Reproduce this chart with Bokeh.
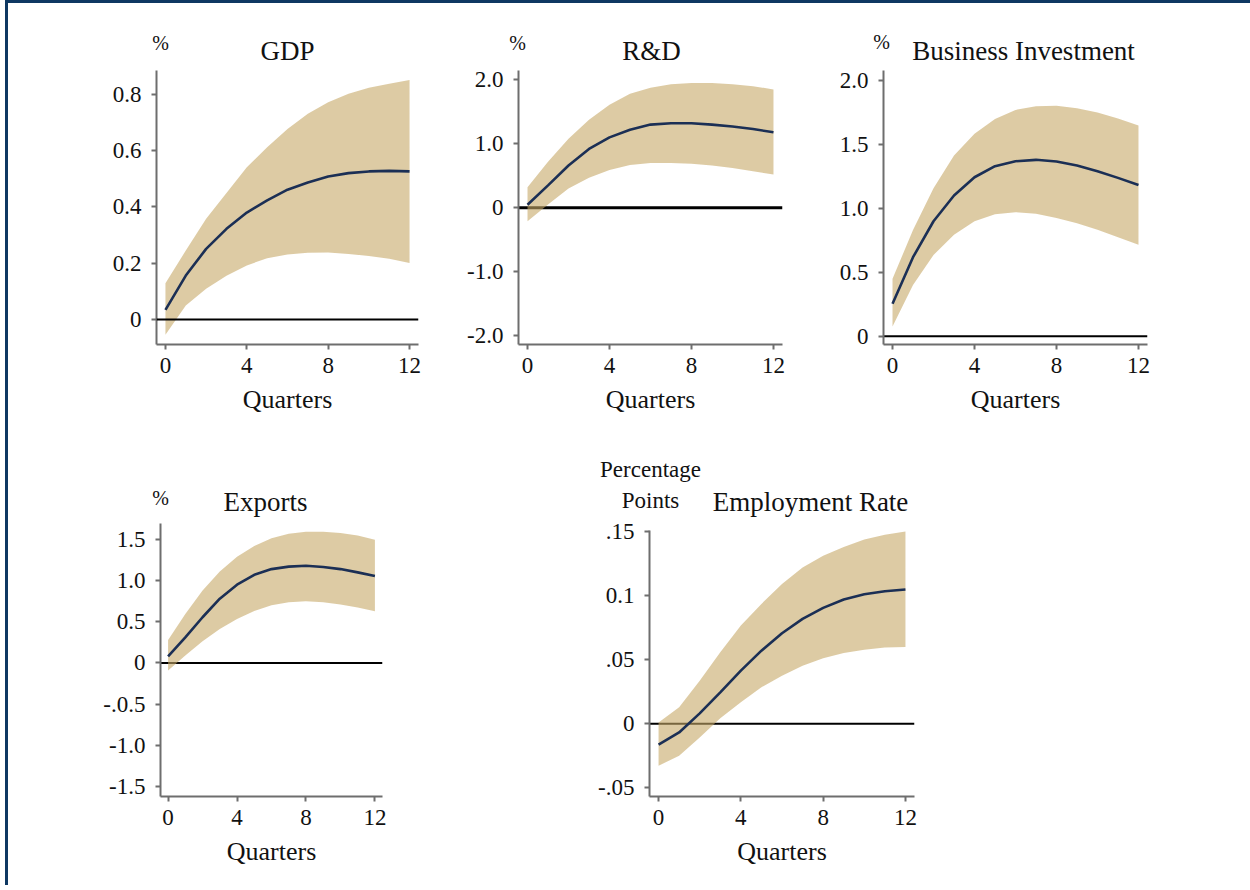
from bokeh.plotting import figure
from bokeh.layouts import row, column
from bokeh.models import Range1d, FixedTicker, Span, Label
from bokeh.embed import file_html
from bokeh.resources import INLINE

# ---------------- data ----------------
quarters = list(range(13))

gdp_irf = [0.034, 0.156, 0.251, 0.322, 0.380, 0.423, 0.461, 0.487, 0.508, 0.520, 0.526, 0.528, 0.526]
gdp_hi = [0.129, 0.245, 0.358, 0.449, 0.541, 0.612, 0.677, 0.731, 0.772, 0.802, 0.823, 0.837, 0.851]
gdp_lo = [-0.054, 0.050, 0.109, 0.155, 0.192, 0.218, 0.231, 0.237, 0.238, 0.233, 0.226, 0.216, 0.201]

rd_irf = [0.047, 0.35, 0.66, 0.92, 1.10, 1.22, 1.30, 1.32, 1.32, 1.30, 1.27, 1.23, 1.18]
rd_hi = [0.32, 0.72, 1.08, 1.375, 1.61, 1.78, 1.875, 1.93, 1.95, 1.95, 1.93, 1.90, 1.85]
rd_lo = [-0.21, 0.05, 0.30, 0.47, 0.59, 0.67, 0.70, 0.70, 0.69, 0.66, 0.62, 0.57, 0.52]

bi_irf = [0.253, 0.617, 0.898, 1.099, 1.242, 1.328, 1.367, 1.378, 1.365, 1.333, 1.289, 1.237, 1.182]
bi_hi = [0.448, 0.830, 1.156, 1.411, 1.581, 1.698, 1.768, 1.797, 1.800, 1.781, 1.747, 1.700, 1.646]
bi_lo = [0.076, 0.400, 0.635, 0.792, 0.898, 0.953, 0.969, 0.956, 0.924, 0.883, 0.831, 0.773, 0.714]

ex_irf = [0.081, 0.31, 0.555, 0.78, 0.95, 1.07, 1.14, 1.17, 1.18, 1.166, 1.14, 1.10, 1.057]
ex_hi = [0.28, 0.595, 0.88, 1.11, 1.29, 1.42, 1.515, 1.57, 1.595, 1.595, 1.58, 1.547, 1.498]
ex_lo = [-0.093, 0.09, 0.263, 0.413, 0.534, 0.632, 0.70, 0.737, 0.749, 0.737, 0.709, 0.672, 0.628]

em_irf = [-0.0164, -0.0068, 0.0081, 0.0245, 0.0414, 0.0570, 0.0706, 0.0818, 0.0904, 0.0969, 0.1010, 0.1034, 0.1047]
em_hi = [0.0010, 0.0128, 0.0336, 0.0557, 0.0766, 0.0935, 0.1090, 0.1220, 0.1310, 0.1380, 0.1438, 0.1474, 0.1500]
em_lo = [-0.0328, -0.0250, -0.0107, 0.0042, 0.0167, 0.0284, 0.0375, 0.0453, 0.0510, 0.0552, 0.0578, 0.0594, 0.0599]

x_ticks = [0, 4, 8, 12]
x_label = "Quarters"

gdp_ticks = [0, 0.2, 0.4, 0.6, 0.8]
gdp_labels = ["0", "0.2", "0.4", "0.6", "0.8"]
rd_ticks = [-2, -1, 0, 1, 2]
rd_labels = ["-2.0", "-1.0", "0", "1.0", "2.0"]
bi_ticks = [0, 0.5, 1, 1.5, 2]
bi_labels = ["0", "0.5", "1.0", "1.5", "2.0"]
ex_ticks = [-1.5, -1, -0.5, 0, 0.5, 1, 1.5]
ex_labels = ["-1.5", "-1.0", "-.0.5", "0", "0.5", "1.0", "1.5"]
em_ticks = [-0.05, 0, 0.05, 0.1, 0.15]
em_labels = ["-.05", "0", ".05", "0.1", ".15"]

# ---------------- style ----------------
FONT = "Liberation Serif"
BAND = "#C6A867"
BAND_ALPHA = 0.6
LINE = "#1b2f55"
AXIS = "#6e6e6e"
FRAME_COLOR = "#0e3862"

# offsets of the stacked label boxes above the frame (measured)
BOX_OFFSETS = [10, -23, -47]

OX, OY = 8, 3   # page position of content origin (inside the page border)
XMAX = 1250


def make_panel(fx0, fx1, fy0, fy1, frame, yr, yticks, ylabels, irf, lo, hi,
               texts, zero_w, zero_level):
    left, right, top, bottom = frame
    p = figure(width=fx1 - fx0, height=fy1 - fy0,
               min_border_left=left - fx0, min_border_right=fx1 - right,
               min_border_top=top - fy0, min_border_bottom=fy1 - bottom,
               x_range=Range1d(-0.44, 12.44), y_range=Range1d(*yr),
               output_backend="svg", toolbar_location=None, tools="")
    p.outline_line_color = None
    p.xgrid.visible = False
    p.ygrid.visible = False
    p.background_fill_color = "white"
    p.border_fill_color = "white"

    p.add_layout(Span(location=0, dimension="width", line_color="black",
                      line_width=zero_w, level=zero_level))
    p.varea(x=quarters, y1=lo, y2=hi, fill_color=BAND, fill_alpha=BAND_ALPHA)
    p.line(x=quarters, y=irf, line_color=LINE, line_width=2.6)

    p.xaxis.ticker = FixedTicker(ticks=x_ticks)
    p.yaxis.ticker = FixedTicker(ticks=yticks)
    p.yaxis.major_label_overrides = {t: l for t, l in zip(yticks, ylabels)}
    p.xaxis.axis_label = x_label
    for ax in (p.xaxis[0], p.yaxis[0]):
        ax.axis_line_color = AXIS
        ax.axis_line_width = 2
        ax.major_tick_line_color = AXIS
        ax.major_tick_line_width = 2
        ax.major_tick_out = 5
        ax.major_tick_in = 0
        ax.minor_tick_out = 0
        ax.minor_tick_in = 0
        ax.major_label_text_font = FONT
        ax.major_label_text_font_size = "23px"
        ax.major_label_text_color = "#111111"
    p.yaxis.major_label_standoff = 10
    p.xaxis.major_label_standoff = 8
    p.xaxis.axis_label_text_font = FONT
    p.xaxis.axis_label_text_font_size = "26px"
    p.xaxis.axis_label_text_font_style = "normal"
    p.xaxis.axis_label_text_color = "#111111"
    p.xaxis.axis_label_standoff = 9

    # title and unit texts, stacked in the panel above the frame
    for i, (txt, tx, ty, size) in enumerate(texts):
        p.add_layout(Label(x=tx - left, y=top + BOX_OFFSETS[i] - ty,
                           x_units="screen", y_units="screen",
                           text=txt, text_align="center", text_baseline="alphabetic",
                           text_font=FONT, text_font_size=size, text_color="#111111"), "above")
    return p


R1_Y0, R1_Y1 = OY, 440
R2_Y0, R2_Y1 = 440, 885

p_gdp = make_panel(OX, 450, R1_Y0, R1_Y1, (156, 418, 70, 344), (-0.0888, 0.8845),
                   gdp_ticks, gdp_labels, gdp_irf, gdp_lo, gdp_hi,
                   [("GDP", 287, 60, "27px"), ("%", 160, 49, "20px")], 2, "overlay")
p_rd = make_panel(450, 835, R1_Y0, R1_Y1, (518, 782, 70, 344), (-2.136, 2.145),
                  rd_ticks, rd_labels, rd_irf, rd_lo, rd_hi,
                  [("R&D", 651, 60, "27px"), ("%", 517, 49, "20px")], 3, "underlay")
p_bi = make_panel(835, XMAX, R1_Y0, R1_Y1, (883, 1147, 70, 344), (-0.065, 2.076),
                  bi_ticks, bi_labels, bi_irf, bi_lo, bi_hi,
                  [("Business Investment", 1023, 60, "27px"), ("%", 881, 48, "20px")],
                  2, "underlay")
p_ex = make_panel(OX, 500, R2_Y0, R2_Y1, (160, 382, 523, 796), (-1.623, 1.694),
                  ex_ticks, ex_labels, ex_irf, ex_lo, ex_hi,
                  [("Exports", 265, 511, "27px"), ("%", 160, 504, "20px")], 2, "underlay")
p_em = make_panel(500, XMAX, R2_Y0, R2_Y1, (649, 914, 530, 796), (-0.0568, 0.1508),
                  em_ticks, em_labels, em_irf, em_lo, em_hi,
                  [("Employment Rate", 810, 511, "27px"), ("Points", 650, 507, "23px"),
                   ("Percentage", 650, 477, "23px")], 2, "underlay")

root = column(row(p_gdp, p_rd, p_bi, spacing=0),
              row(column(p_ex), column(p_em), spacing=0), spacing=0,
              styles={"margin-left": "5px",
                      "border-top": f"3px solid {FRAME_COLOR}",
                      "border-left": f"3px solid {FRAME_COLOR}"})

open("out.html", "w").write(file_html(root, INLINE))
